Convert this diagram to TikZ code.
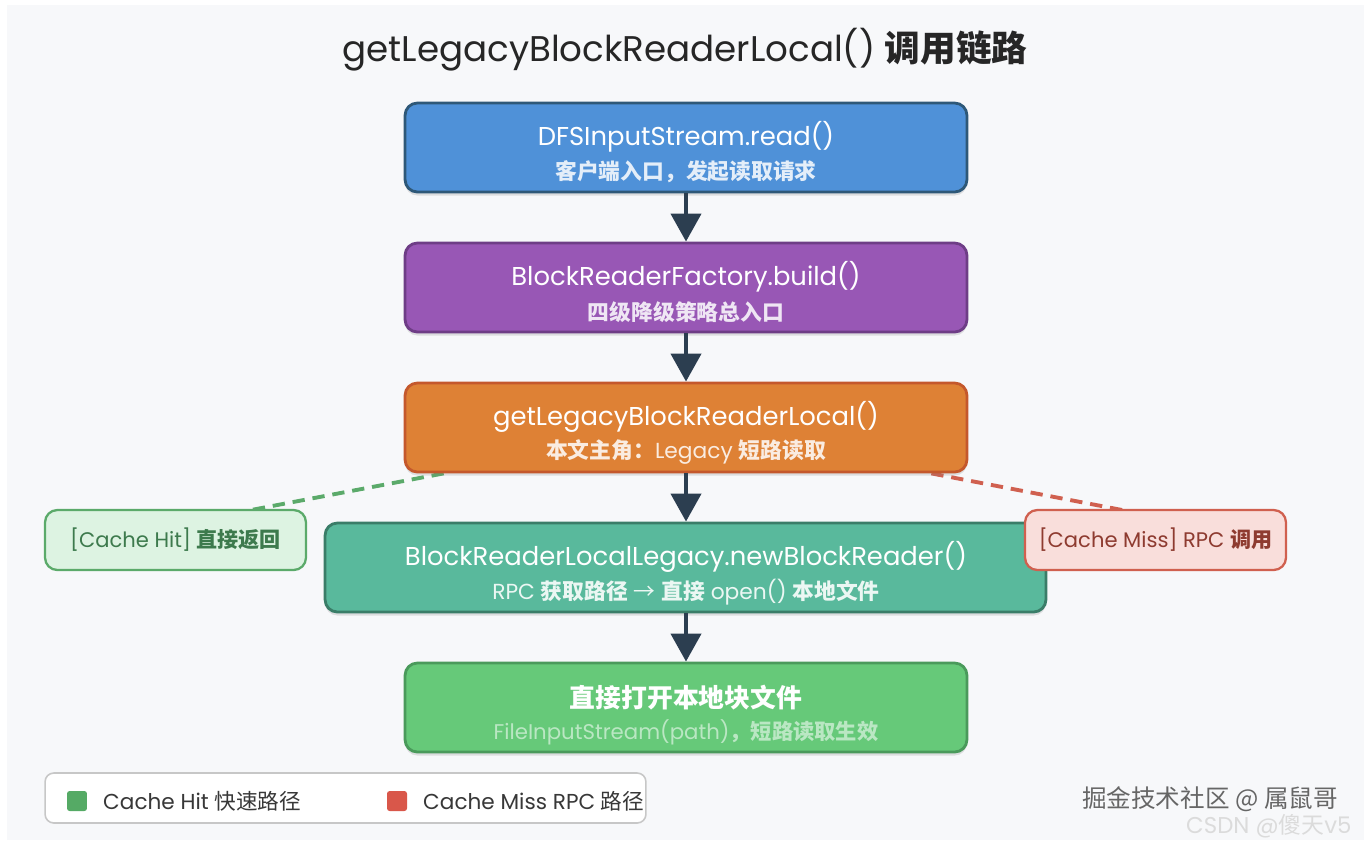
\documentclass[tikz,border=0pt]{standalone}
\usepackage{fontspec}
\setmainfont{Poppins}
\newfontfamily\cjk{Noto Sans CJK SC}
\usetikzlibrary{arrows.meta,shadows}
\definecolor{canvas}{HTML}{F7F8FA}
\definecolor{arrowdark}{HTML}{2C3E50}
\definecolor{bluefill}{HTML}{4F91D8}\definecolor{blueline}{HTML}{2E5878}
\definecolor{purplefill}{HTML}{9857B5}\definecolor{purpleline}{HTML}{6E3D86}
\definecolor{orangefill}{HTML}{DE8135}\definecolor{orangeline}{HTML}{C4582C}
\definecolor{tealfill}{HTML}{59B99C}\definecolor{tealline}{HTML}{3A7D68}
\definecolor{greenfill}{HTML}{66C979}\definecolor{greenline}{HTML}{4A9A5B}
\definecolor{hitfill}{HTML}{DDF3E2}\definecolor{hitline}{HTML}{5BAA6A}\definecolor{hittext}{HTML}{3D7A4D}
\definecolor{missfill}{HTML}{F9DEDB}\definecolor{missline}{HTML}{D0604F}\definecolor{misstext}{HTML}{8E3B30}
\definecolor{legendgreen}{HTML}{55AA65}\definecolor{legendred}{HTML}{D9574A}
\pgfdeclarelayer{canvaslayer}
\pgfdeclarelayer{background}
\pgfsetlayers{canvaslayer,background,main}
\tikzset{
  stepbox/.style={draw, line width=1.6pt, rounded corners=7pt, inner sep=0pt,
    minimum width=11.24cm, minimum height=1.78cm,
    drop shadow={shadow xshift=0pt, shadow yshift=-2pt, opacity=0.22}},
  boxtitle/.style={text=white, font=\fontsize{14.7}{16}\selectfont, inner sep=0pt},
  boxsub/.style={font=\fontsize{12.4}{14}\selectfont, inner sep=0pt},
  sidebox/.style={draw, line width=1.3pt, rounded corners=7pt,
    minimum width=5.22cm, minimum height=1.2cm, font=\fontsize{12}{14}\selectfont},
  flow/.style={-{Triangle[width=17pt,length=16pt]}, line width=2.8pt, arrowdark},
  branch/.style={-{Stealth[length=4pt]}, line width=2.2pt, dash pattern=on 7pt off 4.5pt}
}
\begin{document}
\begin{tikzpicture}[x=0.02cm,y=-0.02cm]
\useasboundingbox (0,0) rectangle (1364,840);
\begin{pgfonlayer}{canvaslayer}
  \fill[white] (0,0) rectangle (1364,840);
  \fill[canvas] (7,5) rectangle (1364,840);
\end{pgfonlayer}
% title
\node[font=\fontsize{20.3}{23}\selectfont, text=black!85] (title) at (685,50)
  {getLegacyBlockReaderLocal() {\cjk\bfseries 调用链路}};
% call chain
\node[stepbox, fill=bluefill, draw=blueline] (b1) at (686,147.5) {};
\node[boxtitle] (b1t) at (686,137) {DFSInputStream.read()};
\node[boxsub, text=white!85!bluefill] (b1s) at (686,172) {\cjk\bfseries 客户端入口，发起读取请求};
\node[stepbox, fill=purplefill, draw=purpleline] (b2) at (686,287.5) {};
\node[boxtitle] (b2t) at (686,277) {BlockReaderFactory.build()};
\node[boxsub, text=white!85!purplefill] (b2s) at (686,312) {\cjk\bfseries 四级降级策略总入口};
\node[stepbox, fill=orangefill, draw=orangeline] (b3) at (686,427.5) {};
\node[boxtitle] (b3t) at (686,417) {getLegacyBlockReaderLocal()};
\node[boxsub, text=white!85!orangefill] (b3s) at (686,452)
  {{\cjk\bfseries 本文主角：}Legacy {\cjk\bfseries 短路读取}};
\node[stepbox, fill=tealfill, draw=tealline, minimum width=14.42cm] (b4) at (685.5,567.5) {};
\node[boxtitle] (b4t) at (686,557) {BlockReaderLocalLegacy.newBlockReader()};
\node[boxsub, text=white!88!tealfill] (b4s) at (686,592)
  {RPC {\cjk\bfseries 获取路径} {\cjk →} {\cjk\bfseries 直接} open() {\cjk\bfseries 本地文件}};
\node[stepbox, fill=greenfill, draw=greenline] (b5) at (686,707.5) {};
\node[boxtitle] (b5t) at (686,698) {\cjk\bfseries 直接打开本地块文件};
\node[boxsub, text=white!55!greenfill, font=\fontsize{12.1}{14}\selectfont] (b5s) at (686,732)
  {FileInputStream(path){\cjk\bfseries ，短路读取生效}};
% cache branches
\node[sidebox, fill=hitfill, draw=hitline, text=hittext] (hit) at (175.5,540)
  {[Cache Hit] {\cjk\bfseries 直接返回}};
\node[sidebox, fill=missfill, draw=missline, text=misstext] (miss) at (1155.5,540)
  {[Cache Miss] RPC {\cjk\bfseries 调用}};
\coordinate (hitend) at (230,514);
\coordinate (missend) at (1143,514);
\begin{pgfonlayer}{background}
  \draw[branch, hitline] (b3.south west) ++(40,0) -- (hitend);
  \draw[branch, missline] (b3.south east) ++(-37,0) -- (missend);
\end{pgfonlayer}
\draw[flow] (b1) -- (b2);
\draw[flow] (b2) -- (b3);
\draw[flow] (b3.south) -- (b3.south |- b4.north);
\draw[flow] (b4.south -| b5.north) -- (b5.north);
% legend
\node[draw=black!22, fill=white, line width=0.9pt, rounded corners=5pt,
  minimum width=12.02cm, minimum height=1cm] (legend) at (345.5,798) {};
\node[fill=legendgreen, rounded corners=1.5pt, minimum size=0.4cm, inner sep=0pt] (keyhit) at (77,801) {};
\node[anchor=west, font=\fontsize{12.3}{14}\selectfont, text=black!78] (keyhittext) at (97,801)
  {Cache Hit {\cjk 快速路径}};
\node[fill=legendred, rounded corners=1.5pt, minimum size=0.4cm, inner sep=0pt] (keymiss) at (397,801) {};
\node[anchor=west, font=\fontsize{12.3}{14}\selectfont, text=black!78] (keymisstext) at (417,801)
  {Cache Miss RPC {\cjk 路径}};
% watermarks
\node[font=\cjk\fontsize{14}{16}\selectfont, text=black!60] (mark1) at (1210,799) {掘金技术社区 @ 属鼠哥};
\node[anchor=west, font=\fontsize{13}{15}\selectfont, text=black!14] (mark2) at (1180,826)
  {CSDN @{\cjk 傻天}v5};
\end{tikzpicture}
\end{document}
